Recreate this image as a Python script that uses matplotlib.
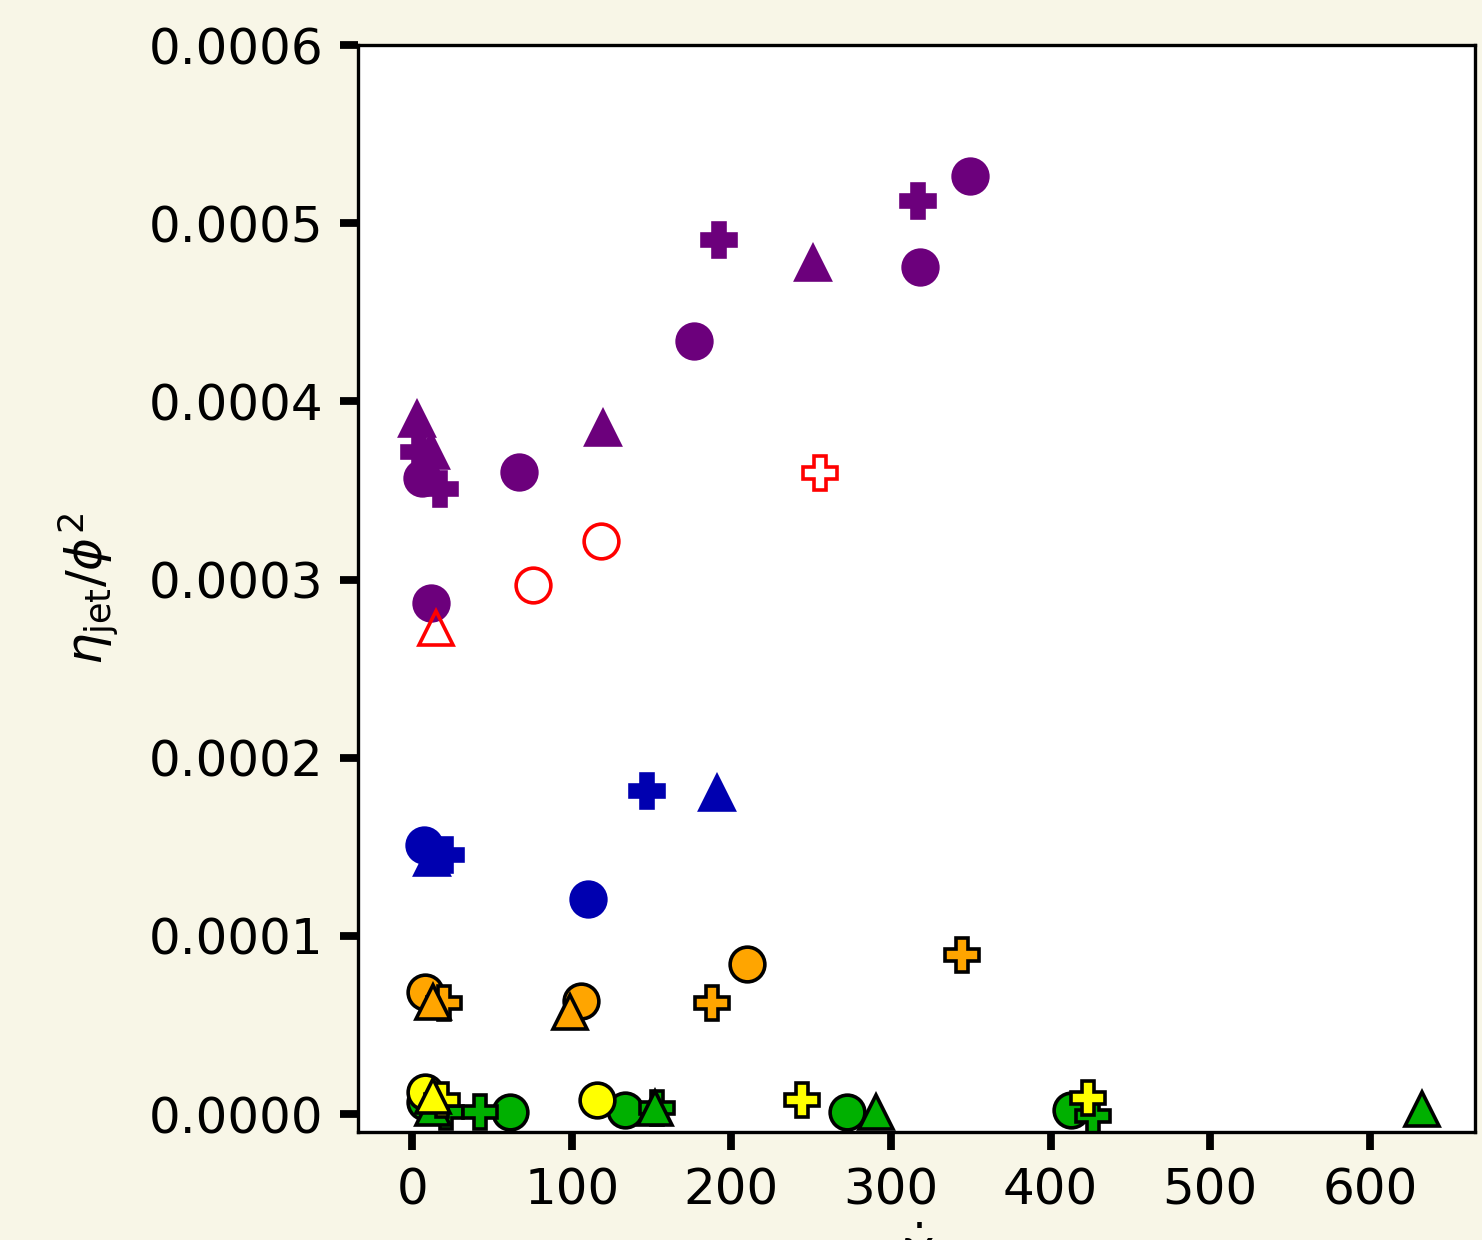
import matplotlib
matplotlib.use("Agg")
import matplotlib.pyplot as plt
from matplotlib.ticker import FormatStrFormatter

plt.rcParams.update({"font.family": "DejaVu Sans", "font.size": 18})

BG = "#f8f6e7"

# purple series
purple_circle_x = [6.3, 11.9, 67.1, 176.8, 317.9, 349.8]
purple_circle_y = [3.57e-4, 2.868e-4, 3.603e-4, 4.339e-4, 4.754e-4, 5.265e-4]
purple_plus_x = [4.4, 17.6, 192.5, 317.2]
purple_plus_y = [3.716e-4, 3.51e-4, 4.905e-4, 5.124e-4]
purple_tri_x = [3.1, 11.9, 119.7, 250.8]
purple_tri_y = [3.90e-4, 3.72e-4, 3.85e-4, 4.776e-4]

# red (hollow) series
red_circle_x = [75.9, 118.5]
red_circle_y = [2.969e-4, 3.216e-4]
red_plus_x = [255.2]
red_plus_y = [3.598e-4]
red_tri_x = [15.0]
red_tri_y = [2.728e-4]

# blue series
blue_circle_x = [7.5, 110.3]
blue_circle_y = [1.51e-4, 1.207e-4]
blue_plus_x = [21.3, 147.3]
blue_plus_y = [1.454e-4, 1.813e-4]
blue_tri_x = [12.5, 191.2]
blue_tri_y = [1.437e-4, 1.80e-4]

# orange series
orange_circle_x = [8.2, 106.0, 210.0]
orange_circle_y = [0.685e-4, 0.634e-4, 0.842e-4]
orange_plus_x = [20.1, 188.0, 344.8]
orange_plus_y = [0.623e-4, 0.623e-4, 0.892e-4]
orange_tri_x = [13.2, 99.0]
orange_tri_y = [0.629e-4, 0.572e-4]

# green series
green_circle_x = [8.2, 61.4, 133.5, 272.7, 412.5]
green_circle_y = [0.067e-4, 0.011e-4, 0.022e-4, 0.011e-4, 0.022e-4]
green_plus_x = [21.3, 42.6, 153.6, 426.3]
green_plus_y = [0.011e-4, 0.011e-4, 0.034e-4, -0.011e-4]
green_tri_x = [13.2, 152.4, 290.3, 632.6]
green_tri_y = [0.034e-4, 0.034e-4, 0.011e-4, 0.028e-4]

# yellow series
yellow_circle_x = [8.2, 116.0]
yellow_circle_y = [0.123e-4, 0.079e-4]
yellow_plus_x = [18.8, 244.5, 423.2]
yellow_plus_y = [0.079e-4, 0.079e-4, 0.09e-4]
yellow_tri_x = [13.2]
yellow_tri_y = [0.101e-4]

# (series, face, edge)
GROUPS = [
    ((purple_circle_x, purple_circle_y), (purple_plus_x, purple_plus_y), (purple_tri_x, purple_tri_y), "#6c007c", "#6c007c"),
    ((red_circle_x, red_circle_y), (red_plus_x, red_plus_y), (red_tri_x, red_tri_y), "none", "red"),
    ((blue_circle_x, blue_circle_y), (blue_plus_x, blue_plus_y), (blue_tri_x, blue_tri_y), "#0000b0", "#0000b0"),
    ((orange_circle_x, orange_circle_y), (orange_plus_x, orange_plus_y), (orange_tri_x, orange_tri_y), "orange", "black"),
    ((green_circle_x, green_circle_y), (green_plus_x, green_plus_y), (green_tri_x, green_tri_y), "#00b000", "black"),
    ((yellow_circle_x, yellow_circle_y), (yellow_plus_x, yellow_plus_y), (yellow_tri_x, yellow_tri_y), "yellow", "black"),
]

fig = plt.figure(figsize=(7.41, 6.2), dpi=200, facecolor=BG)
ax = fig.add_axes([0.2416, 0.0871, 0.7537, 0.8766])
ax.set_facecolor("white")

for circ, plus, tri, fc, ec in GROUPS:
    for (xs, ys), m in ((circ, "o"), (plus, "P"), (tri, "^")):
        ax.plot(xs, ys, ls="none", marker=m, ms=12.5, mfc=fc, mec=ec, mew=1.3)

ax.set_xlim(-34, 666)
ax.set_ylim(-1.0e-5, 6.0e-4)
ax.set_xticks([0, 100, 200, 300, 400, 500, 600])
ax.set_yticks([0, 1e-4, 2e-4, 3e-4, 4e-4, 5e-4, 6e-4])
ax.yaxis.set_major_formatter(FormatStrFormatter("%.4f"))
ax.tick_params(length=6.5, width=2.8, pad=6)
for s in ax.spines.values():
    s.set_linewidth(1.2)
ax.set_ylabel(r"$\eta_{\rm jet}/\phi^2$", labelpad=10)
ax.set_xlabel(r"$\dot{\gamma}$", labelpad=2)

fig.savefig("out.png", dpi=200, facecolor=BG)
